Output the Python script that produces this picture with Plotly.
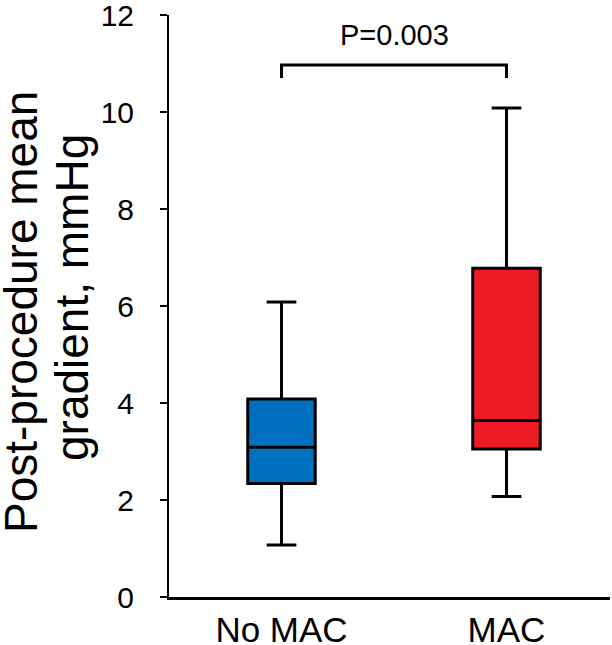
import plotly.graph_objects as go

categories = ["No MAC", "MAC"]
lower_whisker = [1.07, 2.07]
q1_vals = [2.34, 3.05]
median_vals = [3.09, 3.64]
q3_vals = [4.08, 6.78]
upper_whisker = [6.08, 10.08]
box_colors = ["#0070C0", "#ED1C24"]
y_ticks = [0, 2, 4, 6, 8, 10, 12]
y_title_lines = ["Post-procedure mean", "gradient, mmHg"]
p_label = "P=0.003"
bracket_y = 10.97
bracket_tip = 10.70
p_text_y = 11.21

FONT = "Liberation Sans, Arial, sans-serif"
ML, MR, MT, MB = 169, 2, 15, 48
W, H = 612, 645

fig = go.Figure()
for i, cat in enumerate(categories):
    fig.add_trace(go.Box(
        x=[cat],
        q1=[q1_vals[i]],
        median=[median_vals[i]],
        q3=[q3_vals[i]],
        lowerfence=[lower_whisker[i]],
        upperfence=[upper_whisker[i]],
        fillcolor=box_colors[i],
        line=dict(color="black", width=3),
        width=0.3,
        whiskerwidth=0.44,
        boxpoints=False,
        showlegend=False,
        hoverinfo="skip",
    ))

# significance bracket between the two categories
fig.add_shape(
    type="path",
    xref="x", yref="y",
    path=f"M 0,{bracket_tip} L 0,{bracket_y} L 1,{bracket_y} L 1,{bracket_tip}",
    line=dict(color="black", width=3),
)
fig.add_annotation(
    x=0.5, y=p_text_y, xref="x", yref="y",
    text=p_label, showarrow=False, yanchor="bottom",
    font=dict(family=FONT, size=29, color="black"),
)

# y-axis title: two rotated lines (centre positions in page pixels)
title_line_x = [21, 72]
title_line_y = [312, 298]
plot_h = H - MT - MB
for txt, px, py in zip(y_title_lines, title_line_x, title_line_y):
    fig.add_annotation(
        x=0, y=1 - (py - MT) / plot_h, xref="paper", yref="paper",
        text=txt, textangle=-90, showarrow=False,
        xanchor="center", yanchor="middle", xshift=px - ML,
        font=dict(family=FONT, size=46, color="black"),
    )

fig.update_layout(
    width=W, height=H,
    margin=dict(l=ML, r=MR, t=MT, b=MB, autoexpand=False),
    plot_bgcolor="white", paper_bgcolor="white",
    boxmode="overlay",
    font=dict(family=FONT, color="black"),
)
fig.update_xaxes(
    type="category",
    categoryorder="array", categoryarray=categories,
    range=[-0.5, 1.46],
    showline=True, linecolor="black", linewidth=3,
    ticks="", showgrid=False, zeroline=False,
    tickfont=dict(family=FONT, size=35, color="black"),
    ticklabelstandoff=0,
    automargin=False,
    ticklabeloverflow="allow",
)
fig.update_yaxes(
    range=[0, 12],
    tickvals=y_ticks,
    showline=True, linecolor="black", linewidth=2,
    ticks="outside", ticklen=7, tickwidth=2, tickcolor="black",
    showgrid=False, zeroline=False,
    tickfont=dict(family=FONT, size=30, color="black"),
    ticklabelstandoff=20,
    automargin=False,
    ticklabeloverflow="allow",
)

fig.write_html(
    "out.html",
    config={"displayModeBar": False},
    post_script="document.body.style.margin='0';",
)
